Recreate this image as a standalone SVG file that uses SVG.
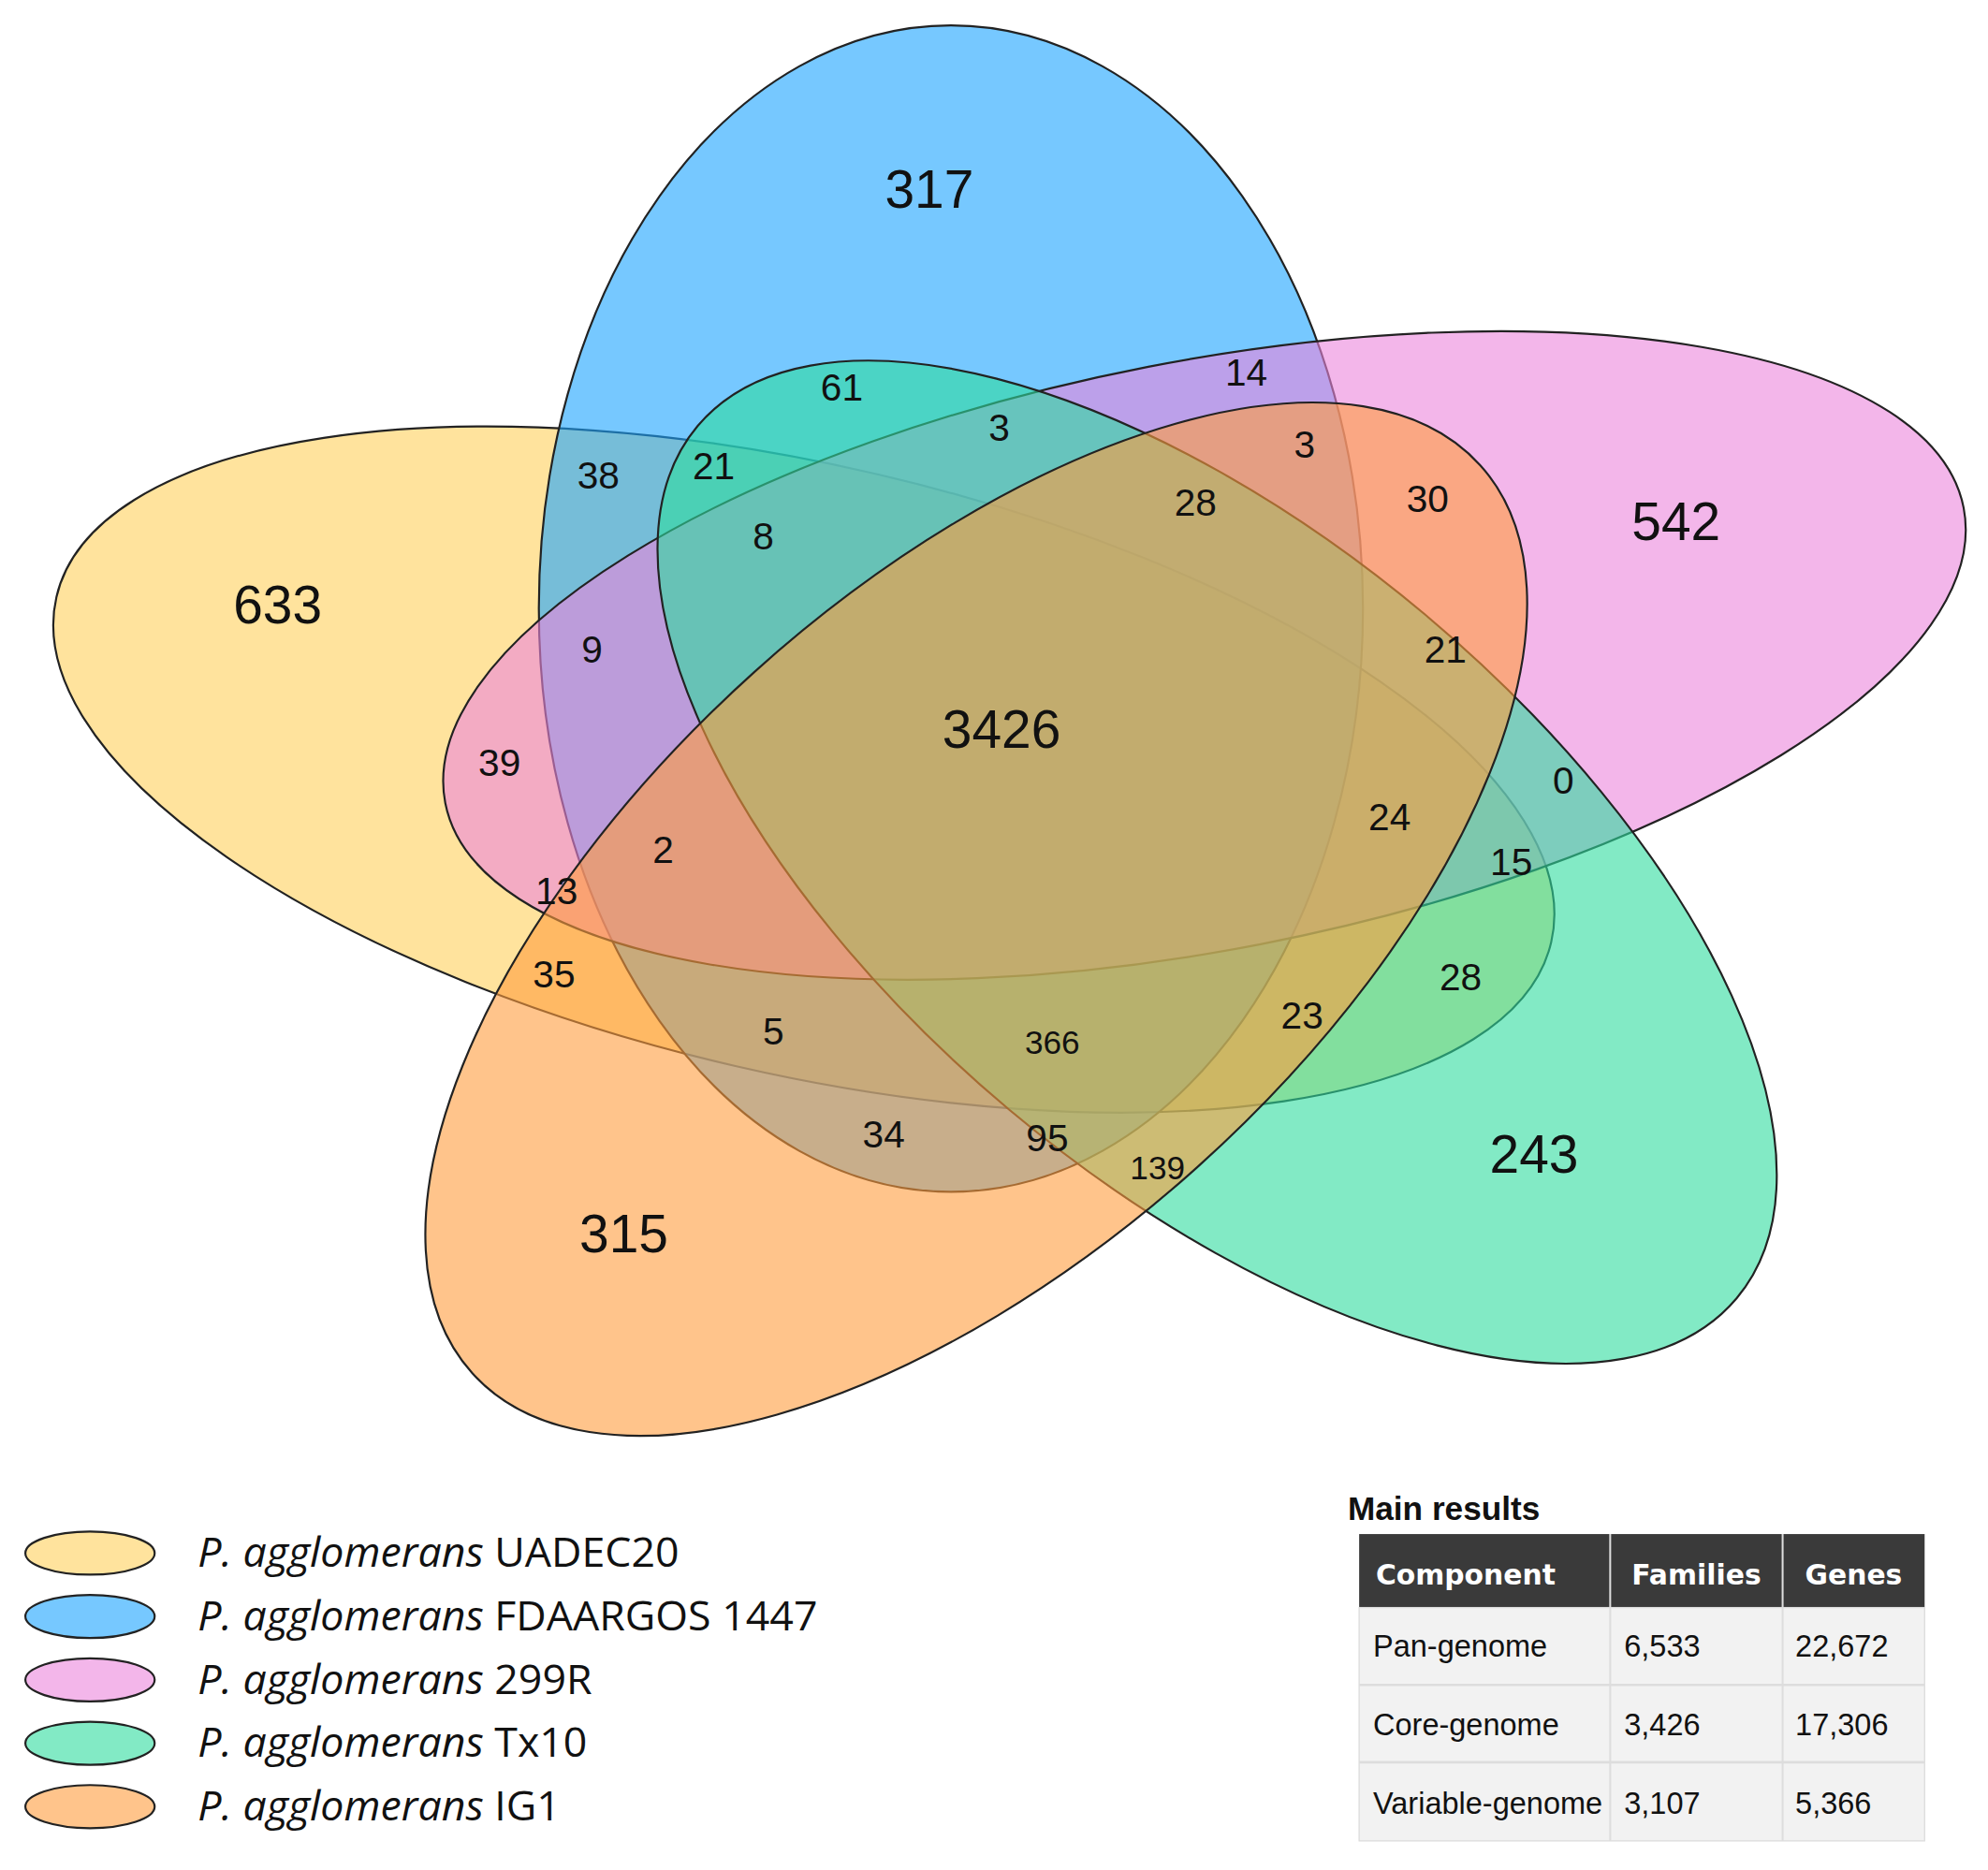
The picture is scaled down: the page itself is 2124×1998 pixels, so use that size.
<svg xmlns="http://www.w3.org/2000/svg" width="2124" height="1998" viewBox="0 0 2124 1998">
<style>
.e{stroke:#222;stroke-width:1.6;fill-opacity:0.6}
.n{font-family:"Liberation Sans",Arial,sans-serif;font-size:30px;fill:#111;text-anchor:middle}
.b{font-size:42px}
.lg{font-family:"Open Sans","DejaVu Sans",sans-serif;font-size:33px;fill:#111}
.t{font-family:"Liberation Sans",Arial,sans-serif;font-size:24px;fill:#111}
.th{font-family:"DejaVu Sans",sans-serif;font-size:22px;font-weight:bold;fill:#fff;text-anchor:middle}
</style>
<rect width="2124" height="1998" fill="#fff"/>
<g transform="scale(1.3546)">
<g id="venn">
<ellipse id="uadec20" class="e" cx="634" cy="607" rx="605" ry="240" transform="rotate(13 634 607)" fill="#ffd15c"/>
<ellipse id="fdaargos" class="e" cx="750" cy="480" rx="325" ry="460" fill="#1aa3ff"/>
<ellipse id="r299" class="e" cx="950" cy="517" rx="610" ry="232" transform="rotate(-11 950 517)" fill="#eb86dc"/>
<ellipse id="tx10" class="e" cx="960" cy="680" rx="535" ry="255" transform="rotate(40 960 680)" fill="#2edc9f" fill-opacity="0.55"/>
<ellipse id="ig1" class="e" cx="770" cy="725" rx="535" ry="262" transform="rotate(-42 770 725)" fill="#ff9d3d" fill-opacity="0.65"/>
</g>
<g id="labels">
<text class="n b" x="733" y="164">317</text>
<text class="n b" x="1322" y="426">542</text>
<text class="n b" x="219" y="492">633</text>
<text class="n b" x="1210" y="925">243</text>
<text class="n b" x="492" y="988">315</text>
<text class="n b" x="790" y="590">3426</text>
<text class="n" x="664" y="316">61</text>
<text class="n" x="983" y="304">14</text>
<text class="n" x="788" y="348">3</text>
<text class="n" x="1029" y="361">3</text>
<text class="n" x="472" y="385">38</text>
<text class="n" x="563" y="378">21</text>
<text class="n" x="943" y="407">28</text>
<text class="n" x="1126" y="404">30</text>
<text class="n" x="602" y="433">8</text>
<text class="n" x="467" y="523">9</text>
<text class="n" x="1140" y="523">21</text>
<text class="n" x="394" y="612">39</text>
<text class="n" x="1233" y="626">0</text>
<text class="n" x="1096" y="655">24</text>
<text class="n" x="523" y="681">2</text>
<text class="n" x="1192" y="690">15</text>
<text class="n" x="439" y="713">13</text>
<text class="n" x="437" y="779">35</text>
<text class="n" x="1152" y="781">28</text>
<text class="n" x="1027" y="811">23</text>
<text class="n" x="610" y="824">5</text>
<text class="n" style="font-size:26px" x="830" y="831">366</text>
<text class="n" x="697" y="905">34</text>
<text class="n" x="826" y="908">95</text>
<text class="n" style="font-size:26px" x="913" y="930">139</text>
</g>
<g id="legend">
<ellipse cx="71" cy="1225" rx="51" ry="17" class="e" fill="#ffd15c" fill-opacity="0.8"/>
<ellipse cx="71" cy="1275" rx="51" ry="17" class="e" fill="#1aa3ff" fill-opacity="0.8"/>
<ellipse cx="71" cy="1325" rx="51" ry="17" class="e" fill="#eb86dc" fill-opacity="0.8"/>
<ellipse cx="71" cy="1375" rx="51" ry="17" class="e" fill="#2edc9f" fill-opacity="0.8"/>
<ellipse cx="71" cy="1425" rx="51" ry="17" class="e" fill="#ff9d3d" fill-opacity="0.8"/>
<text class="lg" x="156" y="1236"><tspan font-style="italic">P. agglomerans</tspan> UADEC20</text>
<text class="lg" x="156" y="1286"><tspan font-style="italic">P. agglomerans</tspan> FDAARGOS 1447</text>
<text class="lg" x="156" y="1336"><tspan font-style="italic">P. agglomerans</tspan> 299R</text>
<text class="lg" x="156" y="1386"><tspan font-style="italic">P. agglomerans</tspan> Tx10</text>
<text class="lg" x="156" y="1436"><tspan font-style="italic">P. agglomerans</tspan> IG1</text>
</g>
<g id="table">
<text x="1063" y="1199" style="font-family:'Liberation Sans',Arial,sans-serif;font-size:26px;font-weight:bold;fill:#111">Main results</text>
<rect x="1072" y="1210" width="446" height="58" fill="#3a3a3a"/>
<rect x="1072" y="1268" width="446" height="184" fill="#f2f2f2" stroke="#ddd"/>
<line x1="1072" y1="1329" x2="1518" y2="1329" stroke="#ddd" stroke-width="2"/>
<line x1="1072" y1="1390" x2="1518" y2="1390" stroke="#ddd" stroke-width="2"/>
<line x1="1270" y1="1210" x2="1270" y2="1452" stroke="#ddd" stroke-width="1.5"/>
<line x1="1406" y1="1210" x2="1406" y2="1452" stroke="#ddd" stroke-width="1.5"/>
<text class="th" x="1156" y="1250">Component</text>
<text class="th" x="1338" y="1250">Families</text>
<text class="th" x="1462" y="1250">Genes</text>
<text class="t" x="1083" y="1307">Pan-genome</text>
<text class="t" x="1281" y="1307">6,533</text>
<text class="t" x="1416" y="1307">22,672</text>
<text class="t" x="1083" y="1369">Core-genome</text>
<text class="t" x="1281" y="1369">3,426</text>
<text class="t" x="1416" y="1369">17,306</text>
<text class="t" x="1083" y="1431">Variable-genome</text>
<text class="t" x="1281" y="1431">3,107</text>
<text class="t" x="1416" y="1431">5,366</text>
</g>
</g>
</svg>
